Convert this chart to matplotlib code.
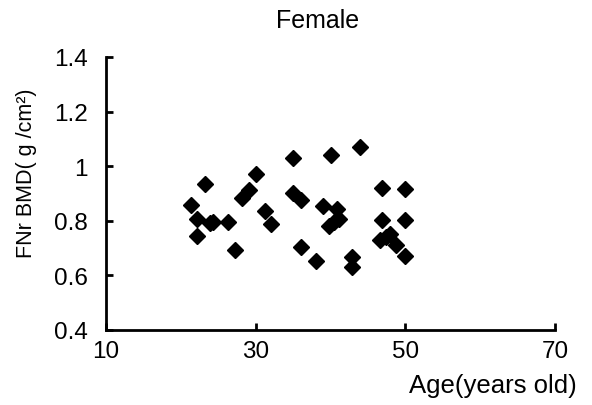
import matplotlib
matplotlib.use("Agg")
import matplotlib.pyplot as plt

plt.rcParams['font.family'] = ['Liberation Sans', 'DejaVu Sans']

age = [21.3, 22.2, 22.2, 23.2, 23.9, 24.3, 26.3, 27.2, 28.2, 29.1, 30.1, 31.2,
       32.1, 35.0, 35.0, 36.1, 36.1, 38.1, 39.0, 40.0, 39.8, 40.5, 41.1, 40.9,
       42.9, 42.9, 43.9, 46.9, 46.9, 46.6, 47.4, 48.0, 48.8, 49.9, 49.9, 49.9]
bmd = [0.858, 0.806, 0.746, 0.935, 0.792, 0.795, 0.794, 0.694, 0.882, 0.912, 0.972, 0.836,
       0.788, 1.029, 0.903, 0.875, 0.704, 0.652, 0.854, 1.041, 0.782, 0.795, 0.806, 0.845,
       0.668, 0.631, 1.071, 0.921, 0.804, 0.728, 0.740, 0.750, 0.710, 0.915, 0.804, 0.672]

xticks = [10, 30, 50, 70]
yticks = [0.4, 0.6, 0.8, 1.0, 1.2, 1.4]
yticklabels = ['0.4', '0.6', '0.8', '1', '1.2', '1.4']

fig = plt.figure(figsize=(5.92, 4.06), dpi=100)
ax = fig.add_axes([106/592, 1-331/406, 449/592, 273/406])

ax.plot(age, bmd, linestyle='none', marker='D', markersize=8.3, color='black')

ax.set_xlim(10, 70)
ax.set_ylim(0.4, 1.4)
ax.set_xticks(xticks)
ax.set_xticklabels([str(t) for t in xticks])
ax.set_yticks(yticks)
ax.set_yticklabels(yticklabels)

for s in ['top', 'right']:
    ax.spines[s].set_visible(False)
for s in ['left', 'bottom']:
    ax.spines[s].set_linewidth(2)
ax.tick_params(direction='in', length=5, width=2, labelsize=17.5)
ax.tick_params(axis='y', pad=13)
ax.tick_params(axis='x', pad=7)

fig.text(318/592, 1-28/406, 'Female', ha='center', va='baseline', fontsize=18)
fig.text(27/592, 1-173/406, 'FNr BMD( g /cm²)', ha='center', va='center',
         rotation=90, fontsize=15.5)
fig.text(577/592, 1-393/406, 'Age(years old)', ha='right', va='baseline', fontsize=18.5)

fig.savefig('out.png', dpi=100)
